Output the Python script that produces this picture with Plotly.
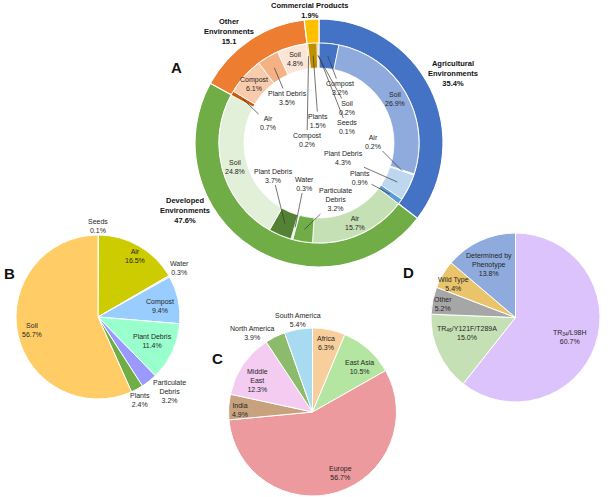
import math
import plotly.graph_objects as go

W, H = 616, 497
FONT = "Liberation Sans, Arial, sans-serif"
TXT = "#262626"

# ---------------- Panel A data ----------------
a_groups = ["Agricultural Environments", "Developed Environments",
            "Other Environments", "Commercial Products"]
a_group_vals = [35.4, 47.6, 15.1, 1.9]
a_group_text = ["Agricultural<br>Environments<br>35.4%",
                "Developed<br>Environments<br>47.6%",
                "Other<br>Environments<br>15.1",
                "Commercial Products<br>1.9%"]
a_group_colors = ["#4472C4", "#70AD47", "#ED7D31", "#FFC000"]

a_sub_group = ["Agricultural"] * 5 + ["Developed"] * 5 + ["Other"] * 4 + ["Commercial"] * 4
a_sub_names = ["Compost", "Soil", "Air", "Plant Debris", "Plants",
               "Air", "Particulate<br>Debris", "Water", "Plant Debris", "Soil",
               "Air", "Compost", "Plant Debris", "Soil",
               "Compost", "Plants", "Soil", "Seeds"]
a_sub_vals = [3.2, 26.9, 0.2, 4.3, 0.9,
              15.7, 3.2, 0.3, 3.7, 24.8,
              0.7, 6.1, 3.5, 4.8,
              0.2, 1.5, 0.2, 0.1]
a_sub_colors = ["#4472C4", "#8FAADC", "#DAE3F3", "#BDD7EE", "#5B9BD5",
                "#C5E0B4", "#70AD47", "#E2F0D9", "#548235", "#E2F0D9",
                "#C55A11", "#F8CBAD", "#F4B183", "#FBE5D6",
                "#D9A400", "#BF9000", "#BF9000", "#7F6000"]

# ---------------- Panel B data ----------------
b_labels = ["Seeds", "Air", "Water", "Compost", "Plant Debris",
            "Particulate<br>Debris", "Plants", "Soil"]
b_vals = [0.1, 16.5, 0.3, 9.4, 11.4, 3.2, 2.4, 56.7]
b_colors = ["#C9C9C9", "#CCCC00", "#FFCC99", "#99CCFF", "#99FFCC",
            "#9999FF", "#70AD47", "#FFCC66"]

# ---------------- Panel C data ----------------
c_labels = ["Africa", "East Asia", "Europe", "India", "Middle<br>East",
            "North America", "South America"]
c_vals = [6.3, 10.5, 56.7, 4.9, 12.3, 3.9, 5.4]
c_colors = ["#F7CE9C", "#B4E6A2", "#EC9A9E", "#C8A27F", "#F4CCF2",
            "#8CBB6B", "#A8DBF0"]

# ---------------- Panel D data ----------------
d_labels = ["TR<sub>34</sub>/L98H", "TR<sub>46</sub>/Y121F/T289A", "Other",
            "Wild Type", "Determined by<br>Phenotype"]
d_vals = [60.7, 15.0, 5.2, 5.4, 13.8]
d_colors = ["#DDC3FB", "#C5E0B4", "#A6A6A6", "#E9C46A", "#8FAADC"]

# ---------------- layout geometry (pixels) ----------------
A_C, A_R, A_RM, A_RI = (319, 143), 124, 100, 75
B_C, B_R = (98, 317), 82
C_C, C_R = (312.5, 412), 84
D_C, D_R = (515.5, 317.5), 84.5

# label text centres (None -> placed inside the inner ring at slice middle)
a_sub_pos = [(340, 88), None, (373, 141.5), (343, 158), (360, 178),
             None, (335, 200), (304, 183.5), (273, 175.5), None,
             (268, 123), None, (287, 98), None,
             (307, 139.5), (318, 121), (347, 108), (347, 127.5)]
a_group_pos = [(453, 74), (185, 210), (229, 32), (310, 10)]
b_pos = [(98, 226), (135, 255.5), (179, 267.5), (160, 306), (152, 340.5),
         (169, 391), (140, 399.5), (32, 330)]
c_pos = [(326, 343), (359, 367), (340, 473), (240, 409.5), (257, 380.5),
         (252, 332.5), (298, 320)]
d_pos = [(569, 337), (467, 332.5), (443, 304), (453, 283.5), (489, 264)]


def dom(c, r):
    cx, cy = c
    return dict(x=[(cx - r) / W, (cx + r) / W], y=[1 - (cy + r) / H, 1 - (cy - r) / H])


def mids(vals):
    tot = sum(vals)
    out, c = [], 0.0
    for v in vals:
        out.append(2 * math.pi * (c + v / 2) / tot)
        c += v
    return out


def polar(c, r, th):
    return c[0] + r * math.sin(th), c[1] - r * math.cos(th)


def pie(labels, vals, colors, c, r, hole=0, lw=1.0):
    return go.Pie(labels=labels, values=vals, hole=hole, sort=False,
                  direction="clockwise", rotation=0, textinfo="none",
                  marker=dict(colors=colors, line=dict(color="white", width=lw)),
                  domain=dom(c, r), showlegend=False, hoverinfo="label+value")


fig = go.Figure()
fig.add_trace(pie(a_groups, a_group_vals, a_group_colors, A_C, A_R, hole=A_RM / A_R, lw=1.2))
fig.add_trace(pie([g + " - " + n.replace("<br>", " ") for g, n in zip(a_sub_group, a_sub_names)],
                  a_sub_vals, a_sub_colors, A_C, A_RM, hole=A_RI / A_RM, lw=0.8))
fig.add_trace(pie(b_labels, b_vals, b_colors, B_C, B_R))
fig.add_trace(pie(c_labels, c_vals, c_colors, C_C, C_R))
fig.add_trace(pie(d_labels, d_vals, d_colors, D_C, D_R))

ann = []


def text_ann(px, py, text, size=7, bold=False, align="center"):
    ann.append(dict(x=px / W, y=1 - py / H, xref="paper", yref="paper",
                    text=("<b>%s</b>" % text) if bold else text, showarrow=False,
                    xanchor="center", yanchor="middle", align=align,
                    font=dict(family=FONT, size=size, color=TXT if not bold else "#111111")))


def leader_ann(tx, ty, hx, hy, text, size=7):
    ann.append(dict(x=hx / W, y=1 - hy / H, xref="paper", yref="paper",
                    text=text, showarrow=True, arrowhead=0, arrowwidth=0.7,
                    arrowcolor="#3a3a3a", standoff=0, ax=tx - hx, ay=ty - hy,
                    axref="pixel", ayref="pixel", align="center",
                    font=dict(family=FONT, size=size, color=TXT)))


# Panel A labels
a_mid = mids(a_sub_vals)
ring_r = (A_RM + A_RI) / 2
for name, v, th, pos in zip(a_sub_names, a_sub_vals, a_mid, a_sub_pos):
    t = "%s<br>%.1f%%" % (name, v)
    hx, hy = polar(A_C, ring_r, th)
    if pos is None:
        text_ann(hx, hy, t)
    else:
        leader_ann(pos[0], pos[1], hx, hy, t)
for t, pos in zip(a_group_text, a_group_pos):
    text_ann(pos[0], pos[1], t, size=7.5, bold=True)

# Panels B, C, D labels
for labs, vals, poss in ((b_labels, b_vals, b_pos), (c_labels, c_vals, c_pos), (d_labels, d_vals, d_pos)):
    for l, v, p in zip(labs, vals, poss):
        text_ann(p[0], p[1], "%s<br>%.1f%%" % (l, v))

# Panel letters
for letter, (px, py) in zip("ABCD", [(176, 67), (9, 273), (217, 358), (408, 272)]):
    text_ann(px, py, letter, size=15, bold=True)

fig.update_layout(width=W, height=H, margin=dict(l=0, r=0, t=0, b=0),
                  paper_bgcolor="white", plot_bgcolor="white",
                  annotations=ann, showlegend=False,
                  font=dict(family=FONT, size=7, color=TXT))

fig.write_html("out.html", config={"displayModeBar": False},
               post_script="document.body.style.margin='0px';document.body.style.overflow='hidden';")
